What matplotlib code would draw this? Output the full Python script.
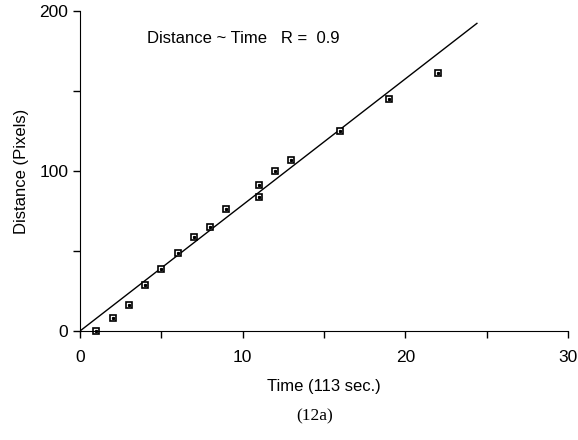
import numpy as np
import matplotlib
matplotlib.use('Agg')
import matplotlib.pyplot as plt

# data
time = [1, 2, 3, 4, 5, 6, 7, 8, 9, 11, 11, 12, 13, 16, 19, 22]
distance = [0, 8, 16, 29, 39, 49, 59, 65, 76, 84, 91, 100, 107, 125, 145, 161]

# fitted line (as drawn)
fit_slope = 7.88
fit_intercept = 0.0
fit_x_end = 24.4

x_ticks = [0, 10, 20, 30]
y_ticks = [0, 100, 200]

plt.rcParams['font.family'] = ['Liberation Sans', 'DejaVu Sans']

fig = plt.figure(figsize=(5.78, 4.40), dpi=100)
ax = fig.add_axes([80 / 578, 1 - 331 / 440, 488 / 578, 320 / 440])

fx = np.array([0, fit_x_end])
ax.plot(fx, fit_slope * fx + fit_intercept, color='black', lw=1.0)

ax.plot(time, distance, ls='none', marker='s', ms=5, mfc='white',
        mec='black', mew=1.2, clip_on=False)
ax.plot(time, distance, ls='none', marker='s', ms=1.3, mfc='black',
        mec='black', clip_on=False)

ax.set_xlim(0, 30)
ax.set_ylim(0, 200)
ax.set_xticks(x_ticks)
ax.set_yticks(y_ticks)
ax.set_xticks([5, 15, 25], minor=True)
ax.set_yticks([50, 150], minor=True)
ax.tick_params(which='both', direction='out', length=5, width=1,
               labelsize=12.5, colors='black')
ax.tick_params(axis='x', pad=9)
ax.spines['top'].set_visible(False)
ax.spines['right'].set_visible(False)

ax.text(4.1, 183, 'Distance ~ Time   R =  0.9', fontsize=12, va='center')

ax.set_xlabel('Time (113 sec.)', fontsize=12, labelpad=10)
ax.set_ylabel('Distance (Pixels)', fontsize=12, labelpad=7)

fig.text(315 / 578, 1 - 416 / 440, '(12a)', ha='center', va='center',
         fontsize=12.5, family=['Liberation Serif', 'DejaVu Serif'])

fig.savefig('out.png', dpi=100)
